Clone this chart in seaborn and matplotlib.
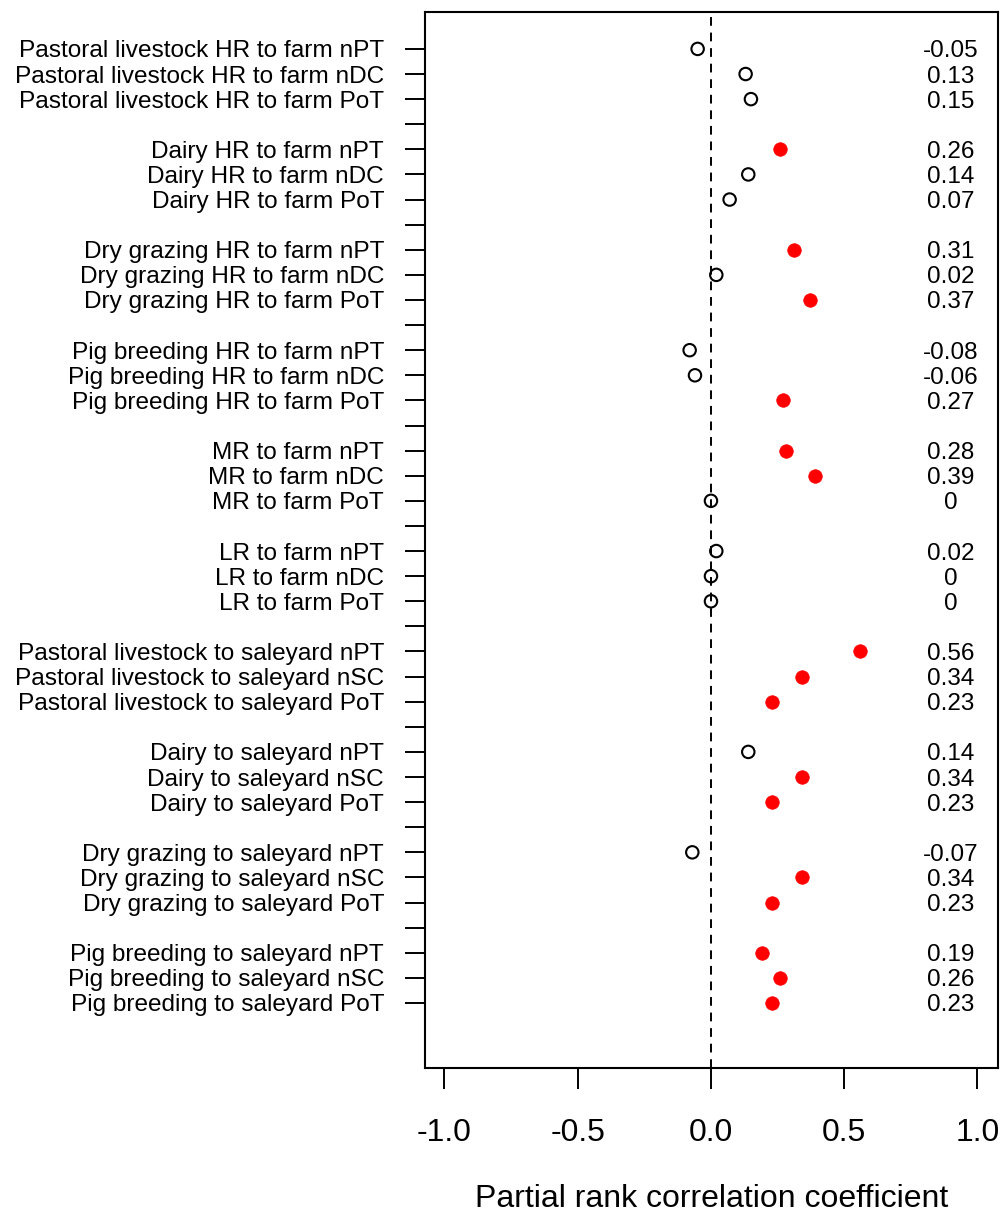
import numpy as np
import pandas as pd
import seaborn as sns
import matplotlib
matplotlib.use('Agg')
import matplotlib.pyplot as plt

# ---- data (top to bottom) ----
groups = ['Pastoral livestock HR to farm', 'Dairy HR to farm', 'Dry grazing HR to farm',
          'Pig breeding HR to farm', 'MR to farm', 'LR to farm',
          'Pastoral livestock to saleyard', 'Dairy to saleyard',
          'Dry grazing to saleyard', 'Pig breeding to saleyard']
suffixes = [['nPT', 'nDC', 'PoT']] * 6 + [['nPT', 'nSC', 'PoT']] * 4
prcc = [-0.05, 0.13, 0.15,
        0.26, 0.14, 0.07,
        0.31, 0.02, 0.37,
        -0.08, -0.06, 0.27,
        0.28, 0.39, 0.0,
        0.02, 0.0, 0.0,
        0.56, 0.34, 0.23,
        0.14, 0.34, 0.23,
        -0.07, 0.34, 0.23,
        0.19, 0.26, 0.23]
significant = [0, 0, 0,
               1, 0, 0,
               1, 0, 1,
               0, 0, 1,
               1, 1, 0,
               0, 0, 0,
               1, 1, 1,
               0, 1, 1,
               0, 1, 1,
               1, 1, 1]
value_labels = ['-0.05', '0.13', '0.15', '0.26', '0.14', '0.07', '0.31', '0.02', '0.37',
                '-0.08', '-0.06', '0.27', '0.28', '0.39', '0', '0.02', '0', '0',
                '0.56', '0.34', '0.23', '0.14', '0.34', '0.23', '-0.07', '0.34', '0.23',
                '0.19', '0.26', '0.23']

labels, pos = [], []
for g, name in enumerate(groups):
    for k, s in enumerate(suffixes[g]):
        labels.append(f'{name} {s}')
        pos.append(g * 4 + k)

df = pd.DataFrame({'label': labels, 'pos': pos, 'prcc': prcc,
                   'sig': ['yes' if s else 'no' for s in significant],
                   'text': value_labels})

sns.set_style('ticks')
plt.rcParams['font.family'] = ['Liberation Sans', 'DejaVu Sans']
plt.rcParams['text.color'] = 'black'

fig = plt.figure(figsize=(10.04, 12.23), dpi=100)
ax = fig.add_axes([425 / 1004, 1 - 1068 / 1223, 573 / 1004, 1056 / 1223])

ax.axvline(0, color='black', lw=1.4, ls=(0, (4.5, 3.5)), zorder=1)

sns.scatterplot(data=df[df.sig == 'no'], x='prcc', y='pos', ax=ax, s=80,
                facecolor='none', edgecolor='black', linewidth=1.5, zorder=3, legend=False)
sns.scatterplot(data=df[df.sig == 'yes'], x='prcc', y='pos', ax=ax, s=95,
                color='red', edgecolor='red', linewidth=0.5, zorder=3, legend=False)

for _, r in df.iterrows():
    ax.text(0.9, r.pos, r.text, ha='center', va='center_baseline',
            fontsize=17.5, color='black')

ax.set_xlim(-1.073, 1.077)
ax.set_ylim(38 + 2.59, -1.47)

all_pos = list(range(39))
tick_lab = [''] * 39
for p, l in zip(pos, labels):
    tick_lab[p] = l
ax.set_yticks(all_pos)
ax.set_yticklabels(tick_lab, fontsize=17.6)
ax.set_xticks([-1.0, -0.5, 0.0, 0.5, 1.0])
ax.set_xticklabels(['-1.0', '-0.5', '0.0', '0.5', '1.0'], fontsize=23)

ax.tick_params(axis='y', length=14.5, width=1.4, pad=15, colors='black')
ax.tick_params(axis='x', length=15, width=1.4, pad=21, colors='black')
for sp in ax.spines.values():
    sp.set_visible(True)
    sp.set_linewidth(1.5)
    sp.set_color('black')

ax.set_xlabel('Partial rank correlation coefficient', fontsize=23, labelpad=26,
              color='black')
ax.set_ylabel('')

fig.savefig('out.png', dpi=100)
